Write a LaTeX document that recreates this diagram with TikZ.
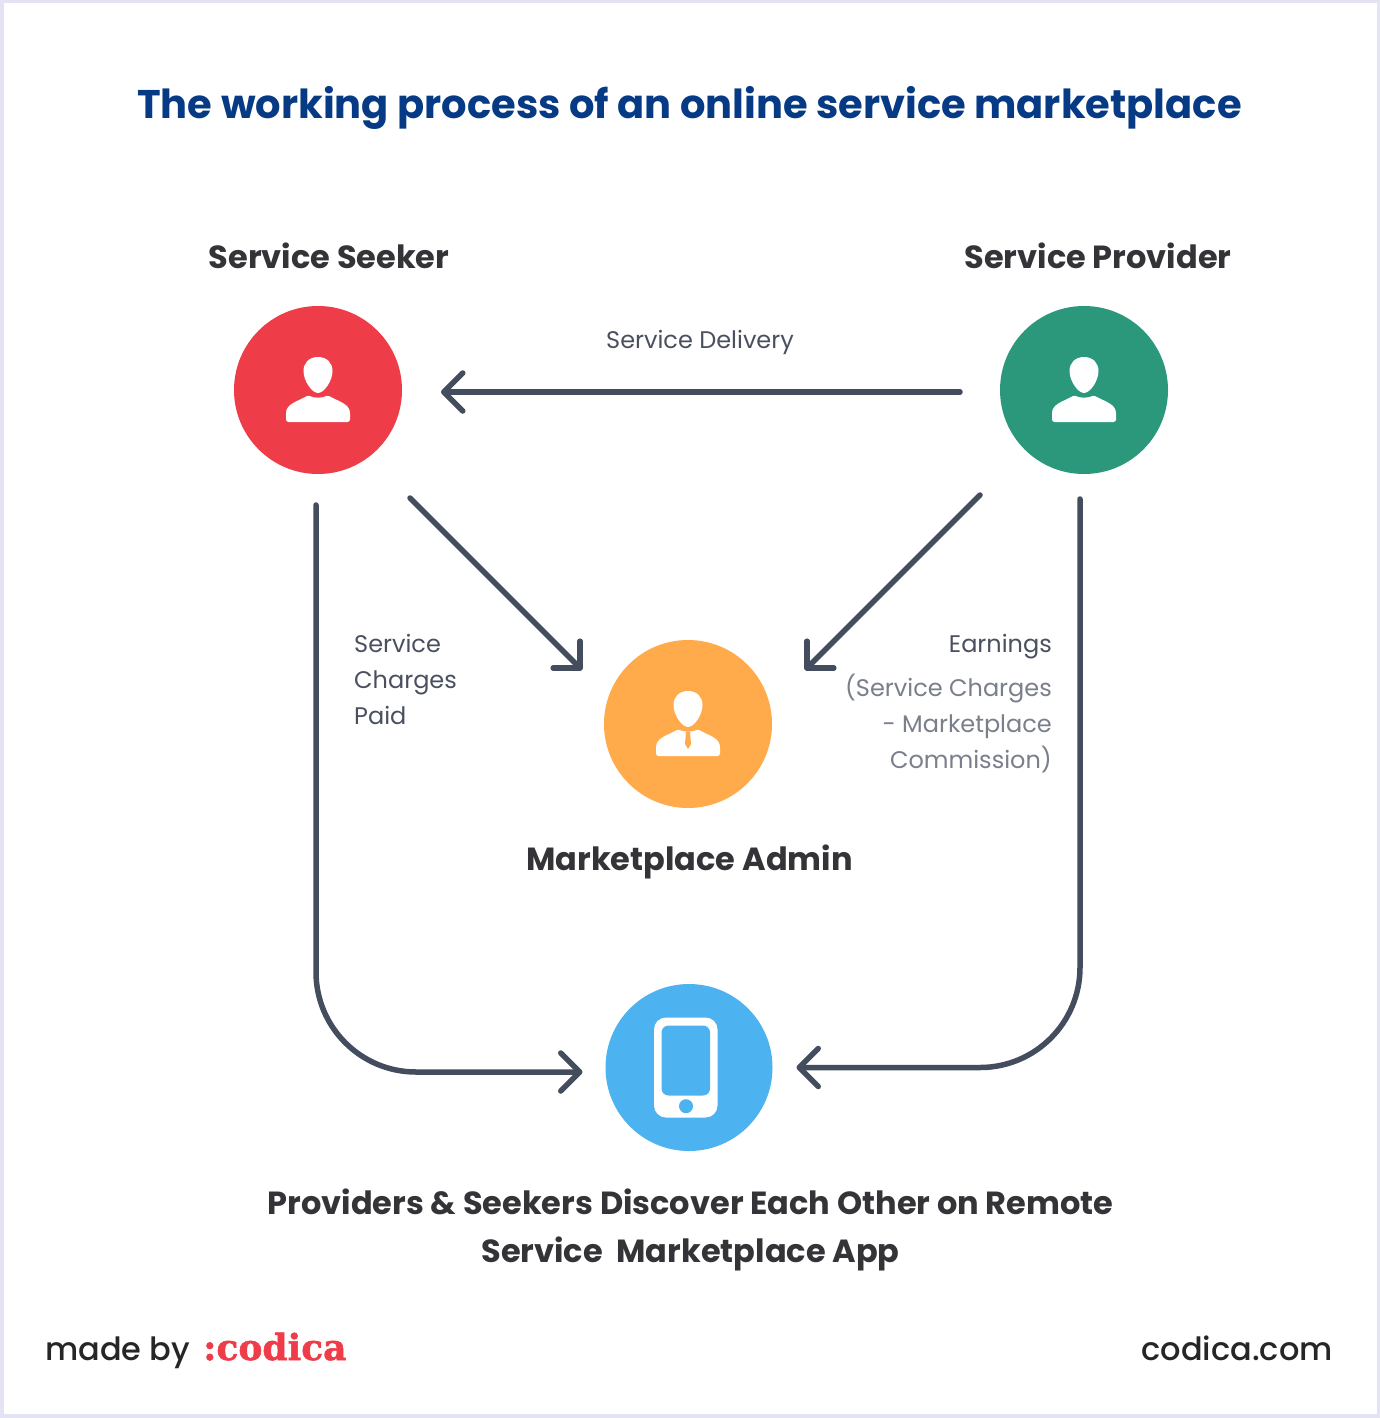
\documentclass[tikz,border=0pt]{standalone}
\usepackage{xcolor}
\usepackage{fontspec}
\setmainfont{Poppins}
\newfontfamily\logofont[BoldFeatures={FakeBold=1.5}]{DejaVu Serif}
\newfontfamily\midfont{Poppins Medium}
\usepackage{tikz}
\usetikzlibrary{positioning,arrows.meta}

\definecolor{framecol}{HTML}{E3E3F3}
\definecolor{titlecol}{HTML}{063A85}
\definecolor{headcol}{HTML}{333338}
\definecolor{labelcol}{HTML}{4A5060}
\definecolor{notecol}{HTML}{7A7F8C}
\definecolor{flowcol}{HTML}{434D5E}
\definecolor{seekercol}{HTML}{EE3D48}
\definecolor{providercol}{HTML}{2B977B}
\definecolor{admincol}{HTML}{FFAB4C}
\definecolor{appcol}{HTML}{4DB3F0}

\tikzset{
  role/.style={circle,inner sep=0pt,outer sep=0pt,minimum size=168pt},
  heading/.style={inner sep=0pt,text=headcol,font=\fontsize{32}{48}\selectfont\bfseries,align=center},
  caption/.style={inner sep=0pt,text=labelcol,font=\fontsize{24}{36}\selectfont},
  flow/.style={draw=flowcol,line width=5.5pt,line cap=round,line join=round,
    -{Straight Barb[length=19pt,width=38pt,round]}},
  bust/.pic={
    \fill[white] (0,-33) .. controls (-9,-33) and (-14.5,-27) .. (-14.5,-19)
      .. controls (-14.5,-9) and (-6,3) .. (0,3)
      .. controls (6,3) and (14.5,-9) .. (14.5,-19)
      .. controls (14.5,-27) and (9,-33) .. (0,-33) -- cycle;
    \fill[white,rounded corners=2.5pt] (-32,32) -- (-32,26)
      .. controls (-32,14) and (-22,12) .. (-9,5)
      .. controls (-5,8) and (5,8) .. (9,5)
      .. controls (22,12) and (32,14) .. (32,26) -- (32,32) -- cycle;
  },
  tie/.pic={
    \fill[admincol] (-2,8) -- (2,8) -- (3,20) -- (0,25) -- (-3,20) -- cycle;
  },
  handset/.pic={
    \fill[white,rounded corners=12pt] (-35,-50) rectangle (28.5,50);
    \fill[appcol,rounded corners=7pt] (-27.5,-42) rectangle (21,28);
    \fill[appcol] (-3,38.7) circle (7);
  }
}

\begin{document}
\begin{tikzpicture}[x=1pt,y=-1pt]
    \useasboundingbox (0,0) rectangle (1380,1418);
    \fill[framecol] (0,0) rectangle (1380,1418);
    \fill[white] (3.5,3.5) rectangle (1376.5,1413.5);

    \node[inner sep=0pt,text=titlecol,font=\fontsize{40}{48}\selectfont\bfseries] (title) at (689.5,108) {The working process of an online service marketplace};

    \node[role,fill=seekercol] (seeker) at (318,390) {};
    \node[role,fill=providercol,right=598pt of seeker] (provider) {};
    \node[role,fill=admincol,below=166pt of seeker,xshift=370pt] (admin) {};
    \node[role,fill=appcol,minimum size=167pt,below=176pt of admin,xshift=1pt] (app) {};

    \pic at (seeker) {bust};
    \pic at (provider) {bust};
    \pic at (admin) {bust};
    \pic at (admin) {tie};
    \pic at (app) {handset};

    \node[heading,above=37pt of seeker,xshift=11pt] (seekerhead) {Service Seeker};
    \node[heading,above=37pt of provider,xshift=14pt] (providerhead) {Service Provider};
    \node[heading,below=37pt of admin,xshift=1.5pt] (adminhead) {Marketplace Admin};
    \node[heading,below=38pt of app,xshift=1.5pt] (apphead) {Providers \& Seekers Discover Each Other on Remote\\Service\ \ Marketplace App};

    \node[caption] (delivery) at (700,342) {Service Delivery};
    \node[caption,align=left,anchor=north west] (charges) at (354,634) {Service\\Charges\\Paid};
    \node[caption,anchor=north east] (earnings) at (1052,634) {Earnings};
    \node[caption,text=notecol,align=right,below=15pt of earnings.south east,anchor=north east] (commission) {(Service Charges\\- Marketplace\\Commission)};

    \draw[flow,shorten <=40pt,shorten >=39pt] ([shift={(0,2)}]provider.west) -- ([shift={(0,2)}]seeker.east);
    \draw[flow] ([shift={(92,108)}]seeker.center) -- ([shift={(-106,-54)}]admin.center);
    \draw[flow] ([shift={(-104,105)}]provider.center) -- ([shift={(117,-54)}]admin.center);
    \draw[flow,rounded corners=100pt] ([shift={(-2,31)}]seeker.south) |- ([shift={(-23,4.5)}]app.west);
    \draw[flow,rounded corners=100pt] ([shift={(-4,25)}]provider.south) |- ([shift={(24,0)}]app.east);

    \node[inner sep=0pt,anchor=base west,text=black!85,font=\fontsize{32}{36}\midfont] (madeby) at (45,1360) {made by};
    \node[inner sep=0pt,anchor=base west,text=seekercol,font=\fontsize{36}{36}\logofont\bfseries] (logo) at (203,1360) {:codica};
    \node[inner sep=0pt,anchor=base east,text=black!85,font=\fontsize{32}{36}\midfont] (site) at (1333,1360) {codica.com};
\end{tikzpicture}
\end{document}
